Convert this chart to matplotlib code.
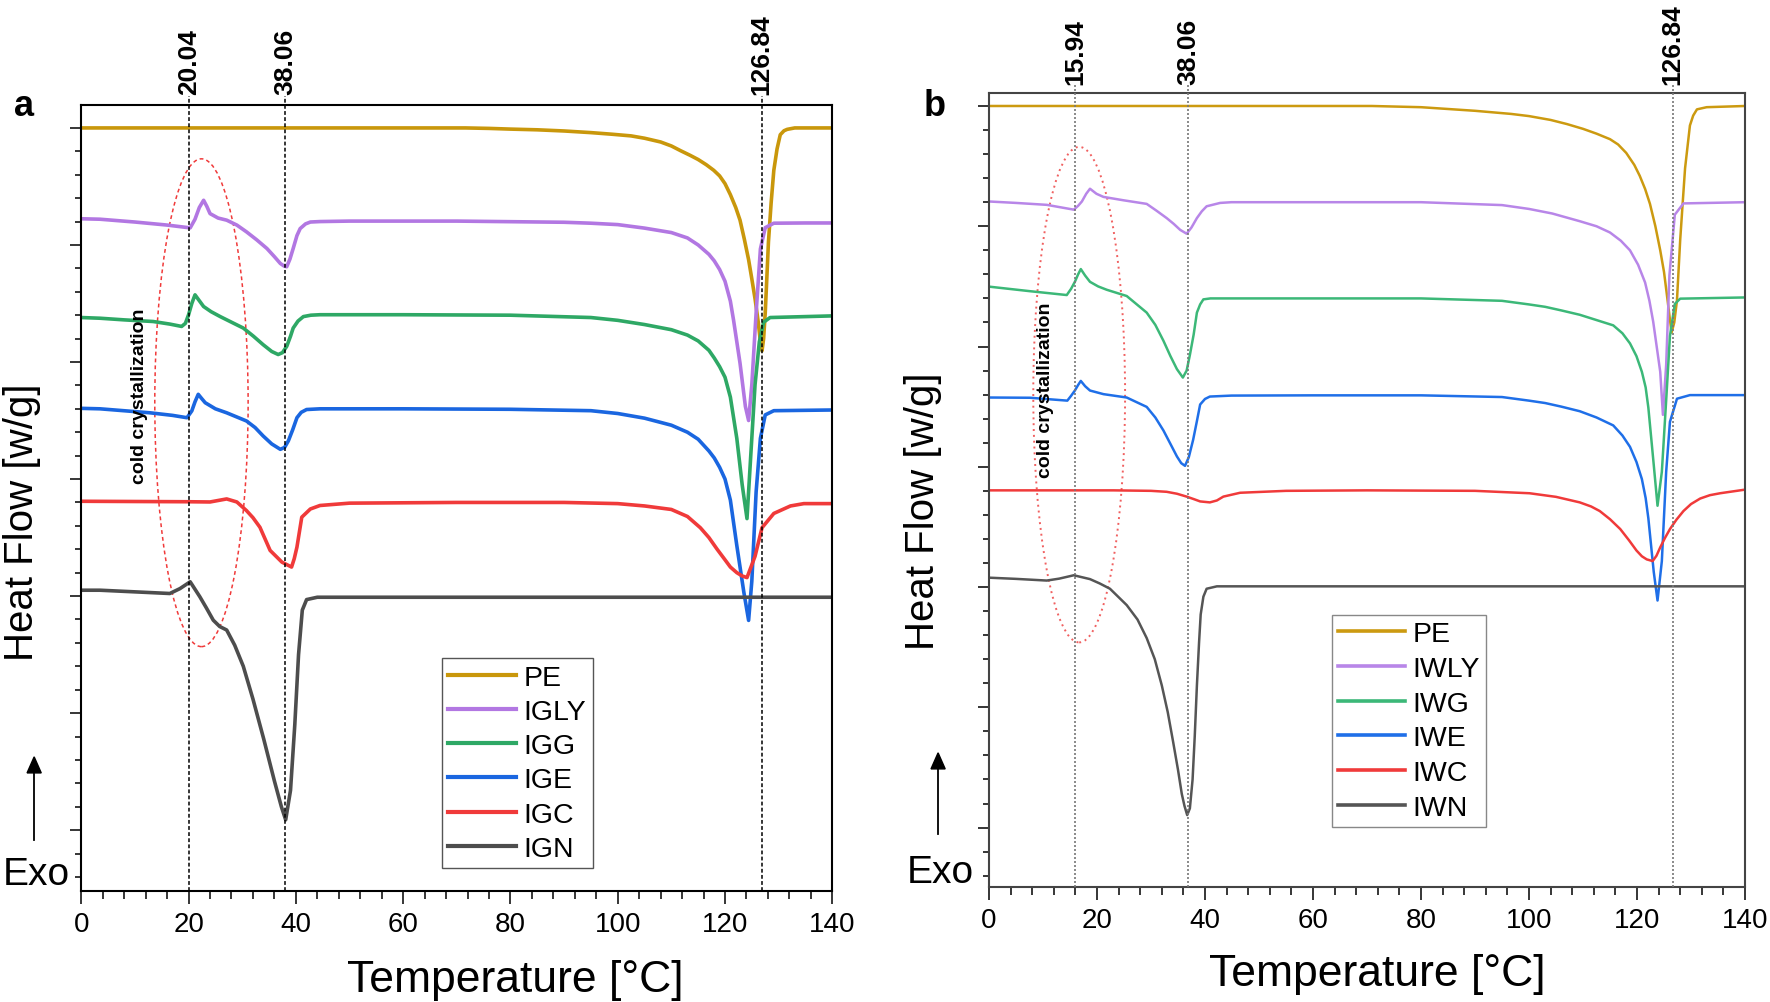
import matplotlib
matplotlib.use('Agg')
import matplotlib.pyplot as plt
from matplotlib.patches import Ellipse, FancyArrow
from matplotlib.ticker import MultipleLocator, NullFormatter
import matplotlib.transforms as mtransforms

plt.rcParams['font.family'] = ['Liberation Sans', 'DejaVu Sans']

# ------- panel a : IG samples -------
t_pe_a = [0, 20, 40, 60, 71.6, 76, 80, 85, 90, 95, 99, 102.5, 105, 108, 110, 111.7, 113.5, 115, 116.5,
          117.9, 119, 120, 121, 122, 122.8, 123.6, 124.4, 125.0, 125.6, 126.2, 126.6, 126.9, 127.2, 127.5,
          127.8, 128.1, 128.6, 129.1, 129.7, 130.3, 131.0, 131.6, 133, 140]
hf_pe_a = [0, 0, 0, 0, 0, -0.02, -0.05, -0.08, -0.13, -0.2, -0.27, -0.34, -0.44, -0.6, -0.77, -0.97, -1.17,
           -1.35, -1.57, -1.81, -2.05, -2.38, -2.85, -3.4, -3.94, -4.75, -5.63, -6.45, -7.3, -8.3, -9.14,
           -9.52, -9.0, -7.9, -6.4, -4.87, -3.2, -1.81, -0.9, -0.29, -0.12, -0.06, 0, 0]

t_igly = [0, 3.5, 10, 16, 20.3, 21.2, 22.0, 22.8, 23.4, 24.0, 25.5, 27.1, 29.0, 30.8, 32.7, 34.6, 36.0,
          37.1, 37.8, 38.3, 38.9, 39.5, 40.2, 40.8, 41.8, 42.7, 44.5, 50, 70, 90, 95, 100, 105, 110, 113,
          115, 117, 118, 119, 120, 121, 121.6, 122.8, 123.8, 124.4, 125.0, 125.8, 126.6, 127.5, 129.1,
          135, 140]
hf_igly = [-3.88, -3.9, -4.02, -4.15, -4.27, -3.9, -3.4, -3.09, -3.35, -3.66, -3.85, -3.94, -4.15, -4.44,
           -4.78, -5.15, -5.5, -5.79, -5.9, -5.93, -5.6, -5.15, -4.6, -4.3, -4.1, -4.02, -4.0, -3.98, -3.98,
           -4.03, -4.07, -4.13, -4.28, -4.47, -4.7, -5.0, -5.4, -5.68, -6.05, -6.55, -7.4, -8.22, -10.05,
           -11.9, -12.5, -10.97, -7.9, -5.17, -4.26, -4.07, -4.06, -4.06]

t_igg = [0, 3.5, 8, 13.4, 16.5, 18.7, 19.4, 20.0, 20.6, 21.2, 21.9, 22.8, 24.2, 25.9, 28, 30.2, 32.1, 33.9,
         35.5, 36.7, 37.5, 38.3, 39.0, 39.5, 40.4, 41.4, 42.8, 44.5, 60, 80, 95, 100, 105, 110, 113, 115,
         117, 118, 119, 120, 121, 122.2, 123.2, 124.1, 124.8, 125.6, 126.4, 127.2, 128.4, 140]
hf_igg = [-8.1, -8.13, -8.2, -8.27, -8.38, -8.48, -8.35, -7.98, -7.5, -7.13, -7.35, -7.63, -7.85, -8.06,
          -8.3, -8.55, -8.9, -9.26, -9.55, -9.68, -9.6, -9.33, -8.9, -8.55, -8.25, -8.06, -8.0, -7.98, -7.98,
          -8.0, -8.1, -8.22, -8.4, -8.62, -8.85, -9.1, -9.5, -9.83, -10.2, -10.65, -11.5, -13.26, -15.24,
          -16.69, -14.0, -10.97, -9.14, -8.30, -8.10, -8.03]

t_ige = [0, 3.5, 12.8, 17, 19.7, 20.6, 21.2, 21.8, 22.4, 23.1, 25, 27.1, 30.8, 32.4, 33.9, 35.5, 37.1,
         37.9, 38.6, 39.4, 40.2, 41.0, 42.0, 44.5, 60, 80, 95, 100, 105, 110, 113, 115, 117, 118, 119, 120,
         121, 122.2, 123.5, 124.4, 125.0, 125.8, 126.6, 127.5, 129.1, 140]
hf_ige = [-11.98, -12.0, -12.17, -12.28, -12.38, -12.09, -11.7, -11.38, -11.55, -11.74, -12.0, -12.17,
          -12.52, -12.8, -13.16, -13.5, -13.73, -13.65, -13.37, -12.9, -12.38, -12.15, -12.03, -12.0,
          -12.0, -12.02, -12.08, -12.2, -12.4, -12.7, -13.0, -13.3, -13.8, -14.1, -14.5, -15.0, -15.9,
          -17.84, -19.82, -21.04, -19.36, -15.55, -13.26, -12.26, -12.08, -12.05]

t_igc = [0, 10, 20, 24.0, 27.1, 29.0, 30.8, 32.0, 33.3, 35.2, 37.4, 39.2, 39.7, 40.2, 41.1, 42.7, 44.5,
         50, 70, 90, 100, 105, 110, 113, 115.4, 117, 118.5, 120, 121, 122.2, 123.2, 124.1, 125.6, 126.9,
         129.1, 132.2, 134.7, 140]
hf_igc = [-15.95, -15.96, -15.97, -15.98, -15.85, -15.98, -16.35, -16.65, -17.06, -18.05, -18.55, -18.76,
          -18.4, -17.91, -16.63, -16.28, -16.13, -16.03, -16.0, -16.0, -16.05, -16.15, -16.3, -16.6,
          -17.08, -17.5, -17.99, -18.45, -18.76, -19.0, -19.14, -19.21, -18.3, -17.08, -16.47, -16.15,
          -16.05, -16.05]

t_ign = [0, 3.5, 10, 16.5, 18.4, 20.3, 22.1, 23.3, 24.6, 25.8, 27.1, 28.6, 30.2, 32.0, 34.0, 36.0, 37.3,
         38.1, 39.0, 39.8, 40.5, 41.2, 42.0, 44.0, 140]
hf_ign = [-19.75, -19.75, -19.82, -19.89, -19.68, -19.39, -20.03, -20.5, -21.03, -21.3, -21.45, -22.1,
          -23.0, -24.4, -26.1, -27.9, -29.0, -29.56, -28.3, -25.5, -22.5, -20.6, -20.15, -20.05, -20.05]

# ------- panel b : IW samples -------
t_pe_b = [0, 20, 40, 60, 70.9, 80, 90, 96.7, 100, 104, 107, 110, 112.5, 115, 116.5, 118, 119.5, 120.5,
          121.5, 122.4, 123.4, 124.3, 125.0, 125.5, 126.0, 126.4, 126.9, 127.4, 128.0, 128.5, 128.9, 129.4,
          129.8, 130.4, 131.1, 132.9, 140]
hf_pe_b = [0, 0, 0, 0, 0, -0.05, -0.2, -0.33, -0.42, -0.58, -0.75, -0.95, -1.15, -1.38, -1.6, -1.95,
           -2.45, -2.9, -3.45, -4.07, -5.0, -6.0, -6.9, -7.79, -8.7, -9.42, -9.0, -8.08, -5.56, -3.9, -2.59,
           -1.6, -0.81, -0.4, -0.14, -0.05, 0]

t_iwly = [0, 5, 10.7, 15.7, 16.5, 17.2, 18.0, 18.7, 19.9, 21.2, 24.9, 29.2, 31.0, 32.9, 34.2, 35.4, 36.6,
          37.5, 38.5, 39.4, 40.3, 42.8, 44.9, 60, 80, 95, 100, 104.3, 109.4, 112.5, 115.0, 117, 118.7,
          120.2, 121.5, 122.3, 123.0, 124.3, 124.8, 125.4, 126.0, 127.0, 128.6, 140]
hf_iwly = [-3.97, -4.03, -4.11, -4.31, -4.15, -3.97, -3.65, -3.44, -3.65, -3.78, -3.92, -4.07, -4.35,
           -4.66, -4.9, -5.15, -5.31, -5.05, -4.66, -4.38, -4.17, -4.03, -4.0, -4.0, -4.0, -4.12, -4.28,
           -4.47, -4.79, -5.0, -5.26, -5.6, -6.0, -6.6, -7.34, -8.1, -8.97, -11.05, -12.84, -10.76, -7.04,
           -4.52, -4.05, -4.0]

t_iwg = [0, 7.6, 14.4, 15.2, 15.9, 16.5, 17.0, 17.8, 18.7, 20.2, 21.8, 25.5, 29.2, 30.8, 32.3, 33.6, 34.8,
         35.9, 36.6, 37.2, 37.9, 38.5, 39.1, 39.7, 41, 42.8, 60, 80, 95, 100, 103, 106, 109.4, 112.5,
         115.6, 117.3, 118.7, 119.9, 120.9, 121.6, 122.1, 123.1, 123.8, 124.6, 125.4, 126.1, 127.0,
         128.0, 140]
hf_iwg = [-7.51, -7.70, -7.86, -7.6, -7.31, -7.0, -6.78, -7.05, -7.31, -7.5, -7.64, -7.90, -8.59, -9.1,
          -9.76, -10.4, -10.94, -11.29, -11.0, -10.35, -9.5, -8.59, -8.25, -8.04, -8.0, -8.0, -8.0, -8.0,
          -8.1, -8.25, -8.35, -8.5, -8.68, -8.9, -9.12, -9.45, -9.87, -10.4, -11.05, -11.7, -12.54, -14.92,
          -16.62, -15.21, -12.24, -9.56, -8.23, -8.01, -7.96]

t_iwe = [0, 7.6, 14.5, 15.2, 15.9, 16.5, 17.0, 17.8, 18.7, 21.2, 25.5, 29.2, 30.8, 32.3, 33.6, 34.8, 35.6,
         36.3, 37.0, 37.8, 38.5, 39.1, 40.0, 40.9, 44.9, 60, 80, 95, 100, 103, 106, 109.4, 112.5, 115.6,
         117.3, 118.7, 119.9, 120.9, 121.6, 122.1, 123.1, 123.8, 124.6, 125.4, 126.1, 127.4, 129.8, 140]
hf_iwe = [-12.12, -12.13, -12.25, -12.05, -11.83, -11.6, -11.43, -11.65, -11.83, -11.98, -12.12, -12.51,
          -12.95, -13.49, -14.05, -14.57, -14.85, -14.96, -14.6, -13.88, -13.1, -12.41, -12.18, -12.08,
          -12.04, -12.03, -12.03, -12.1, -12.25, -12.35, -12.5, -12.69, -12.95, -13.28, -13.7, -14.17,
          -14.8, -15.51, -16.3, -17.14, -19.37, -20.56, -18.92, -15.21, -13.13, -12.17, -12.02, -12.02]

t_iwc = [0, 10, 23.0, 30, 32.9, 34.8, 36.6, 38, 39.1, 40.9, 42.2, 43.4, 46.5, 55, 70, 90, 100.1, 105,
         109.4, 111.5, 113.1, 115, 116.9, 118.5, 119.9, 120.9, 121.8, 122.9, 123.6, 124.3, 125.2, 126.1,
         127.3, 128.6, 130, 131.7, 133.5, 135.4, 140]
hf_iwc = [-15.98, -15.98, -15.98, -16.0, -16.04, -16.12, -16.24, -16.35, -16.44, -16.48, -16.4, -16.24,
          -16.08, -16.0, -15.98, -16.0, -16.1, -16.25, -16.48, -16.65, -16.84, -17.18, -17.59, -18.05,
          -18.48, -18.72, -18.85, -18.92, -18.7, -18.35, -17.95, -17.59, -17.2, -16.84, -16.55, -16.32,
          -16.18, -16.10, -15.95]

t_iwn = [0, 5, 10.7, 13, 15.7, 18.7, 20.5, 22.4, 25.5, 27.5, 29.2, 30.7, 32.0, 33.1, 34.1, 35.0, 35.7,
         36.2, 36.7, 37.2, 37.7, 38.1, 38.5, 38.9, 39.2, 39.7, 40.3, 42.2, 140]
hf_iwn = [-19.61, -19.66, -19.73, -19.65, -19.51, -19.67, -19.85, -20.07, -20.75, -21.35, -22.12, -23.0,
          -24.09, -25.2, -26.44, -27.6, -28.6, -29.1, -29.48, -29.2, -28.0, -26.2, -24.09, -22.3, -21.14,
          -20.4, -20.07, -19.97, -19.97]

labels_a = ['PE', 'IGLY', 'IGG', 'IGE', 'IGC', 'IGN']
labels_b = ['PE', 'IWLY', 'IWG', 'IWE', 'IWC', 'IWN']
colors_a = ['#C9970B', '#B277E2', '#2EA865', '#1A66E0', '#F03A3A', '#4D4D4D']
colors_b = ['#CC9A10', '#B886E8', '#3CB878', '#1F6FE8', '#F03A3A', '#555555']

peaks_a = [20.04, 38.06, 126.84]
peak_labels_a = ['20.04', '38.06', '126.84']
peaks_b = [15.94, 36.9, 126.6]
peak_labels_b = ['15.94', '38.06', '126.84']

fig = plt.figure(figsize=(17.7, 10.03), dpi=100)
ax_a = fig.add_axes([0.04593, 0.11067, 0.42429, 0.78365])
ax_b = fig.add_axes([0.55876, 0.11466, 0.42712, 0.79162])

curves_a = [(t_pe_a, hf_pe_a), (t_igly, hf_igly), (t_igg, hf_igg),
            (t_ige, hf_ige), (t_igc, hf_igc), (t_ign, hf_ign)]
curves_b = [(t_pe_b, hf_pe_b), (t_iwly, hf_iwly), (t_iwg, hf_iwg),
            (t_iwe, hf_iwe), (t_iwc, hf_iwc), (t_iwn, hf_iwn)]


def style_axes(ax, ylim, spine_col):
    ax.set_xlim(0, 140)
    ax.set_ylim(*ylim)
    ax.xaxis.set_major_locator(MultipleLocator(20))
    ax.xaxis.set_minor_locator(MultipleLocator(4))
    ax.yaxis.set_major_locator(MultipleLocator(5))
    ax.yaxis.set_minor_locator(MultipleLocator(1))
    ax.yaxis.set_major_formatter(NullFormatter())
    ax.tick_params(axis='x', which='major', direction='out', length=9.5, width=1.1,
                   labelsize=20, pad=5)
    ax.tick_params(axis='x', which='minor', direction='out', length=5.5, width=1.1)
    ax.tick_params(axis='y', which='major', direction='out', length=8, width=1.1)
    ax.tick_params(axis='y', which='minor', direction='out', length=4, width=1.1)
    for s in ax.spines.values():
        s.set_linewidth(1.5)
        s.set_color(spine_col)


# panel a
for (t, hf), lab, col in zip(curves_a, labels_a, colors_a):
    ax_a.plot(t, hf, color=col, lw=2.6, label=lab, solid_joinstyle='round')
style_axes(ax_a, (-32.6, 0.98), 'black')

trans_a = mtransforms.blended_transform_factory(ax_a.transData, ax_a.transAxes)
for xv, lab in zip(peaks_a, peak_labels_a):
    ax_a.plot([xv, xv], [0, 1.012], transform=trans_a, color='black', lw=1.1,
              linestyle=(0, (2.5, 1.5)), clip_on=False, zorder=5)
    ax_a.text(xv, 1.014, lab, transform=trans_a, rotation=90, ha='center', va='bottom',
              fontsize=19, fontweight='bold')

ax_a.add_patch(Ellipse((22.4, -11.74), 17.4, 20.84, fill=False, edgecolor='#F03A3A',
                       lw=1.1, linestyle=(0, (2.5, 2))))
ax_a.text(10.8, -11.4, 'cold crystallization', rotation=90, ha='center', va='center',
          fontsize=14, fontweight='bold')

leg_a = ax_a.legend(loc='upper left', bbox_to_anchor=(0.480, 0.296), borderaxespad=0,
                    fontsize=20.5, handlelength=2.4, handletextpad=0.25, labelspacing=0.29,
                    borderpad=0.22, fancybox=False, framealpha=1, edgecolor='#555555')
for ln in leg_a.get_lines():
    ln.set_linewidth(3.0)

# panel b
for (t, hf), lab, col in zip(curves_b, labels_b, colors_b):
    ax_b.plot(t, hf, color=col, lw=1.8, label=lab, solid_joinstyle='round')
style_axes(ax_b, (-32.47, 0.54), '#444444')

trans_b = mtransforms.blended_transform_factory(ax_b.transData, ax_b.transAxes)
for xv, lab in zip(peaks_b, peak_labels_b):
    ax_b.plot([xv, xv], [0, 1.01], transform=trans_b, color='#777777', lw=1.2,
              linestyle=(0, (1.2, 1.2)), clip_on=False, zorder=5)
    ax_b.text(xv, 1.011, lab, transform=trans_b, rotation=90, ha='center', va='bottom',
              fontsize=19, fontweight='bold')

ax_b.add_patch(Ellipse((16.7, -12.0), 17.0, 20.6, fill=False, edgecolor='#F06060',
                       lw=1.4, linestyle=(0, (1, 2))))
ax_b.text(10.5, -11.77, 'cold crystallization', rotation=90, ha='center', va='center',
          fontsize=14, fontweight='bold')

leg_b = ax_b.legend(loc='upper left', bbox_to_anchor=(0.4537, 0.343), borderaxespad=0,
                    fontsize=20.5, handlelength=2.35, handletextpad=0.25, labelspacing=0.31,
                    borderpad=0.22, fancybox=False, framealpha=1, edgecolor='#888888')
for ln in leg_b.get_lines():
    ln.set_linewidth(2.6)

# labels around the panels
for x0, y_hf, y_exo, x_exo, y_arr0, y_arr1, x_lab, y_lab, letter, x_let in [
        (0.0124, 0.4796, 0.1276, 0.0203, 0.1615, 0.2443, 0.291, 0.022, 'a', 0.0136),
        (0.5215, 0.4905, 0.1296, 0.531, 0.1675, 0.2483, 0.778, 0.028, 'b', 0.528)]:
    fig.text(x0, y_hf, 'Heat Flow [w/g]', rotation=90, ha='center', va='center', fontsize=29)
    fig.text(x_exo, y_exo, 'Exo', ha='center', va='center', fontsize=28)
    arr_x = x_exo - 0.001
    fig.add_artist(plt.Line2D([arr_x, arr_x], [y_arr0, y_arr1 - 0.012], color='black', lw=1.3,
                              transform=fig.transFigure))
    fig.patches.append(FancyArrow(arr_x, y_arr1 - 0.016, 0, 0.0001, width=0.0,
                                  head_width=0.008, head_length=0.016, color='black',
                                  transform=fig.transFigure, length_includes_head=False))
    fig.text(x_lab, y_lab, 'Temperature [°C]', ha='center', va='center', fontsize=32)
    fig.text(x_let, 0.894, letter, ha='center', va='center', fontsize=26, fontweight='bold')

fig.savefig('out.png', dpi=100, facecolor='white')
